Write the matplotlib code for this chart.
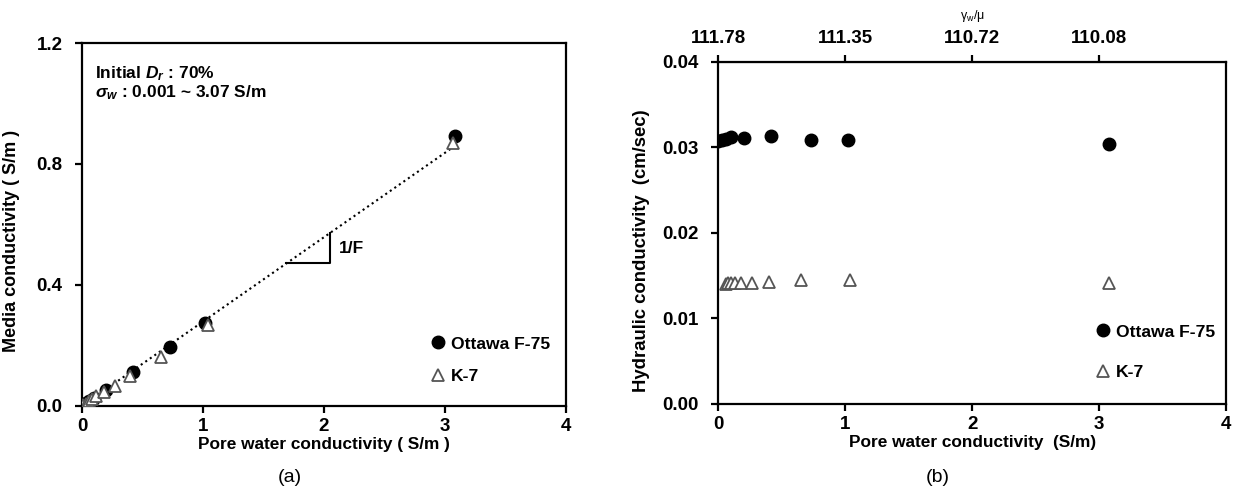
import numpy as np
import matplotlib.pyplot as plt

plt.rcParams['font.family'] = ['Liberation Sans', 'DejaVu Sans']
plt.rcParams['font.weight'] = 'bold'
plt.rcParams['axes.labelweight'] = 'bold'
plt.rcParams['mathtext.fontset'] = 'custom'
plt.rcParams['mathtext.rm'] = 'Liberation Sans:bold'
plt.rcParams['mathtext.it'] = 'Liberation Sans:bold:italic'
plt.rcParams['mathtext.bf'] = 'Liberation Sans:bold'

# (a) media vs pore water conductivity
ott_sw = [0.001, 0.03, 0.06, 0.1, 0.2, 0.42, 0.73, 1.02, 3.08]
ott_sm = [0.002, 0.009, 0.017, 0.028, 0.054, 0.112, 0.195, 0.275, 0.893]
k7_sw = [0.005, 0.03, 0.06, 0.08, 0.12, 0.18, 0.27, 0.40, 0.65, 1.04, 3.07]
k7_sm = [0.002, 0.008, 0.016, 0.022, 0.032, 0.047, 0.065, 0.099, 0.163, 0.268, 0.868]
fit_slope = 0.279
fit_x = [0.0, 3.07]
tri_x = [1.69, 2.05]

# (b) hydraulic conductivity vs pore water conductivity
ott_sw_k = [0.001, 0.03, 0.06, 0.1, 0.2, 0.42, 0.73, 1.02, 3.08]
ott_k = [0.0308, 0.0309, 0.0310, 0.0312, 0.0311, 0.0313, 0.0309, 0.0309, 0.0304]
k7_sw_k = [0.06, 0.08, 0.1, 0.13, 0.18, 0.27, 0.40, 0.65, 1.04, 3.08]
k7_k = [0.0140, 0.0141, 0.0142, 0.0142, 0.0142, 0.0142, 0.0143, 0.0145, 0.0145, 0.0142]
top_pos = [0, 1, 2, 3]
top_labels = ['111.78', '111.35', '110.72', '110.08']

fig = plt.figure(figsize=(12.36, 4.92), dpi=100)
ax1 = fig.add_axes([0.0663, 0.1748, 0.3916, 0.7378])
ax2 = fig.add_axes([0.581, 0.179, 0.411, 0.695])

circ = dict(marker='o', ms=9, color='black', linestyle='none')
tri = dict(marker='^', ms=9, mfc='white', mec='#555555', mew=1.3, linestyle='none')

for ax in (ax1, ax2):
    for s in ax.spines.values():
        s.set_linewidth(1.6)
    ax.tick_params(direction='out', width=1.6, length=5, labelsize=13.5)
    ax.tick_params(axis='y', pad=9)
    ax.tick_params(axis='x', pad=4)
    ax.set_xlim(0, 4)
    ax.set_xticks([0, 1, 2, 3, 4])

# panel (a)
fx = np.array(fit_x)
ax1.plot(fx, fit_slope * fx, linestyle=':', color='black', lw=1.5, zorder=1)
ax1.plot([tri_x[0], tri_x[1], tri_x[1]],
         [fit_slope * tri_x[0], fit_slope * tri_x[0], fit_slope * tri_x[1]],
         color='black', lw=1.5)
ax1.text(tri_x[1] + 0.07, fit_slope * (tri_x[0] + tri_x[1]) / 2, '1/F',
         fontsize=12.5, va='center')
ax1.plot(ott_sw, ott_sm, label='Ottawa F-75', zorder=2, **circ)
ax1.plot(k7_sw, k7_sm, label='K-7', zorder=3, **tri)
ax1.set_ylim(0, 1.2)
ax1.set_yticks([0, 0.4, 0.8, 1.2])
ax1.set_yticklabels(['0.0', '0.4', '0.8', '1.2'])
ax1.set_xlabel('Pore water conductivity ( S/m )', fontsize=12.4, labelpad=1)
ax1.set_ylabel('Media conductivity ( S/m )', fontsize=13)
ax1.yaxis.set_label_coords(-0.128, 0.455)
ax1.text(0.027, 0.9036, 'Initial $D_r$ : 70%', transform=ax1.transAxes,
         fontsize=12.5, va='baseline')
ax1.text(0.027, 0.851, r'$\sigma_w$ : 0.001 ~ 3.07 S/m', transform=ax1.transAxes,
         fontsize=12.5, va='baseline')
ax1.legend(loc='center left', bbox_to_anchor=(0.675, 0.126), frameon=False,
           fontsize=12.6, handletextpad=0.0, labelspacing=1.0, handlelength=1.5)

# panel (b)
ax2.plot(ott_sw_k, ott_k, label='Ottawa F-75', zorder=2, **circ)
ax2.plot(k7_sw_k, k7_k, label='K-7', zorder=3, **tri)
ax2.set_ylim(0, 0.04)
ax2.set_yticks([0, 0.01, 0.02, 0.03, 0.04])
ax2.set_yticklabels(['0.00', '0.01', '0.02', '0.03', '0.04'])
ax2.set_xlabel('Pore water conductivity  (S/m)', fontsize=12.4, labelpad=1)
ax2.set_ylabel('Hydraulic conductivity  (cm/sec)', fontsize=13.3)
ax2.yaxis.set_label_coords(-0.134, 0.447)
ax2.legend(loc='center left', bbox_to_anchor=(0.70, 0.151), frameon=False,
           fontsize=12.6, handletextpad=0.0, labelspacing=1.45, handlelength=1.5)

top = ax2.secondary_xaxis('top')
top.set_xticks(top_pos)
top.set_xticklabels(top_labels)
top.tick_params(direction='out', width=1.6, length=5, pad=6, labelsize=13.5)
top.set_xlabel(r'γ$_\mathregular{w}$/μ', fontsize=9, fontweight='normal', labelpad=8)

fig.text(290 / 1236, 1 - 478 / 492, '(a)', fontsize=14, fontweight='normal',
         ha='center', va='center')
fig.text(938 / 1236, 1 - 478 / 492, '(b)', fontsize=14, fontweight='normal',
         ha='center', va='center')

fig.savefig('out.png', dpi=100)
